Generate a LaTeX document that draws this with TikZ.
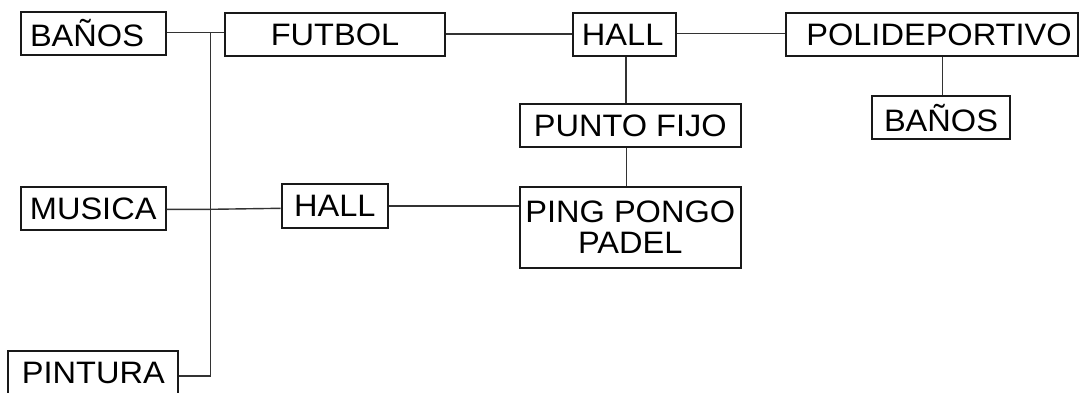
\documentclass[tikz,border=0pt]{standalone}
\usepackage{fontspec}
\setmainfont{Liberation Sans}[FakeStretch=1.05]
\begin{document}
\begin{tikzpicture}[x=1pt,y=-1pt,
  box/.style={draw=black!90, line width=2pt, inner sep=0pt, align=center,
    font=\fontsize{31}{31}\selectfont, minimum height=43pt},
  link/.style={draw=black!80, line width=1.4pt}]
\useasboundingbox (0,0) rectangle (1080,392);
% top row
\node[box, minimum width=145pt] (banos1) at (93,33) {BAÑOS\hspace{12pt}};
\node[box, minimum width=220pt] (futbol) at (335,34.5) {FUTBOL};
\node[box, minimum width=103pt] (hall1) at (624.2,34.5) {HALL\hspace{3pt}};
\node[box, minimum width=292pt] (poli) at (932,34.5) {\hspace{14pt}POLIDEPORTIVO};
% second row
\node[box, minimum width=138pt] (banos2) at (941,117.7) {BAÑOS};
\node[box, minimum width=220.7pt] (punto) at (630.3,125.5) {PUNTO FIJO};
% middle row
\node[box, minimum width=145pt] (musica) at (93.2,208.8) {MUSICA};
\node[box, minimum width=106.3pt, minimum height=43.4pt] (hall2) at (334.8,206) {HALL};
\node[box, minimum width=220.7pt, minimum height=81.6pt] (ping) at (630.3,227.5) {PING PONGO\\PADEL};
% bottom
\node[box, minimum width=170pt] (pintura) at (93.3,372.5) {PINTURA};
% trunk
\coordinate (ttop) at (210.7,32.3);
\coordinate (tmid) at (210.7,209.3);
\coordinate (tbot) at (210.7,376);
\draw[link] (ttop) -- (tbot);
\draw[link] (banos1.east |- ttop) -- (futbol.west |- ttop);
\draw[link] (musica.east |- tmid) -- (tmid) -- (hall2.west |- 0,208.3);
\draw[link] (pintura.east |- tbot) -- (tbot);
\draw[link] (futbol.east |- 0,34) -- (hall1.west |- 0,34);
\draw[link] (hall1.east |- 0,33.3) -- (poli.west |- 0,33.3);
\draw[link] (hall1.south -| 626,0) -- (punto.north -| 626,0);
\draw[link] (punto.south -| 626.3,0) -- (ping.north -| 626.3,0);
\draw[link] (hall2.east |- 0,206) -- (ping.west |- 0,206);
\draw[link] (poli.south -| 942.7,0) -- (banos2.north -| 942.7,0);
\end{tikzpicture}
\end{document}
